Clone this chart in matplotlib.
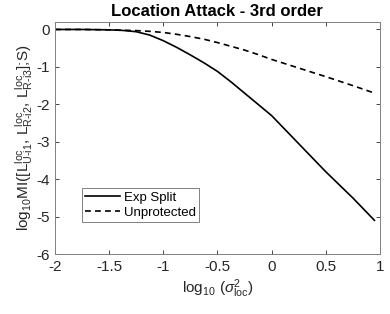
import numpy as np
import matplotlib
matplotlib.use("Agg")
import matplotlib.pyplot as plt

# ======================================================
# DATA
# ======================================================
log_var = [-2.0, -1.75, -1.5, -1.375, -1.25, -1.125, -1.0, -0.875, -0.75, -0.625,
           -0.5, -0.375, -0.25, -0.125, 0.0, 0.25, 0.5, 0.75, 0.95]
exp_split = [0.0, 0.0, -0.01, -0.025, -0.06, -0.15, -0.3, -0.48, -0.68, -0.89,
             -1.12, -1.4, -1.7, -2.0, -2.3, -3.05, -3.8, -4.5, -5.1]
unprotected = [0.0, 0.0, -0.01, -0.02, -0.03, -0.05, -0.08, -0.13, -0.19, -0.26,
               -0.35, -0.45, -0.55, -0.67, -0.8, -1.03, -1.26, -1.5, -1.7]

x_ticks = [-2, -1.5, -1, -0.5, 0, 0.5, 1]
y_ticks = [0, -1, -2, -3, -4, -5, -6]

# ======================================================
# STYLE
# ======================================================
plt.rcParams["font.family"] = ["Liberation Sans", "DejaVu Sans"]
plt.rcParams["mathtext.fontset"] = "custom"
plt.rcParams["mathtext.rm"] = "Liberation Sans"
plt.rcParams["mathtext.it"] = "Liberation Sans:italic"
plt.rcParams["mathtext.bf"] = "Liberation Sans:bold"

axis_grey = "#262626"

fig = plt.figure(figsize=(3.9, 3.14), dpi=100)
ax = fig.add_axes([0.141, 0.191, 0.833, 0.739])

ax.plot(log_var, exp_split, color="black", linewidth=1.2, label="Exp Split")
ax.plot(log_var, unprotected, color="black", linewidth=1.2, linestyle=(0, (3.5, 2.5)),
        label="Unprotected")

ax.set_xlim(-2, 1)
ax.set_ylim(-6, 0.2)
ax.set_xticks(x_ticks)
ax.set_xticklabels([f"{t:g}" for t in x_ticks])
ax.set_yticks(y_ticks)
ax.set_yticklabels([f"{t:g}" for t in y_ticks])

ax.tick_params(direction="in", length=3, width=0.6, colors=axis_grey,
               labelsize=11, top=True, right=True, pad=4)
for sp in ax.spines.values():
    sp.set_color("#808080")
    sp.set_linewidth(0.7)

ax.set_title("Location Attack - 3rd order", fontsize=12, fontweight="bold", pad=4)
ax.set_xlabel(r"log$_{10}$ ($\sigma^2_{\mathrm{loc}}$)", fontsize=11, color=axis_grey,
              labelpad=3)
ax.set_ylabel(r"log$_{10}$MI([L$^{\mathrm{loc}}_{\mathrm{U\text{-}i1}}$, "
              r"L$^{\mathrm{loc}}_{\mathrm{R\text{-}i2}}$, "
              r"L$^{\mathrm{loc}}_{\mathrm{R\text{-}i3}}$];S)",
              fontsize=11, color=axis_grey, labelpad=1)

leg = ax.legend(loc="lower left", bbox_to_anchor=(0.083, 0.138), fontsize=9.5,
                fancybox=False, framealpha=1, edgecolor="#808080",
                handlelength=2.6, handletextpad=0.3, borderpad=0.25,
                labelspacing=0.2, borderaxespad=0)
leg.get_frame().set_linewidth(0.7)

fig.savefig("out.png", dpi=100)
